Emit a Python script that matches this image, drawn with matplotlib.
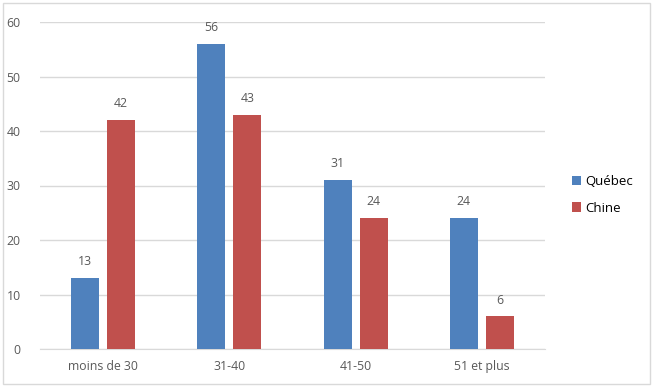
import matplotlib
matplotlib.use('Agg')
import matplotlib.pyplot as plt
from matplotlib.patches import Rectangle
import numpy as np

categories = ['moins de 30', '31-40', '41-50', '51 et plus']
quebec = [13, 56, 31, 24]
chine = [42, 43, 24, 6]
series_names = ['Québec', 'Chine']

plt.rcParams['font.family'] = ['Open Sans', 'DejaVu Sans']

W, H = 655, 387
fig = plt.figure(figsize=(W / 100, H / 100), dpi=100)
fig.patch.set_facecolor('white')
fig.patches.append(Rectangle((3 / W, 3 / H), 647 / W, 381 / H, transform=fig.transFigure,
                             fill=False, edgecolor='#D9D9D9', linewidth=1))

ax = fig.add_axes([40 / W, (H - 349) / H, 505 / W, 327 / H])

x = np.arange(len(categories))
bw = 0.222
off = 0.143
text_col = '#595959'

b1 = ax.bar(x - off, quebec, bw, color='#4F81BD', label=series_names[0], zorder=3)
b2 = ax.bar(x + off, chine, bw, color='#C0504D', label=series_names[1], zorder=3)

# étiquettes de valeurs au-dessus des barres
for bars in (b1, b2):
    for r in bars:
        ax.annotate(f'{int(r.get_height())}', (r.get_x() + r.get_width() / 2, r.get_height()),
                    xytext=(0, 7), textcoords='offset points', ha='center', va='bottom',
                    fontsize=8.8, color=text_col)

ax.set_xlim(-0.5, len(categories) - 0.5)
ax.set_ylim(0, 60)
ax.set_yticks(range(0, 61, 10))
ax.set_xticks(x)
ax.set_xticklabels(categories)
ax.yaxis.grid(True, color='#D9D9D9', linewidth=1, zorder=0)
ax.set_axisbelow(True)
for s in ['top', 'right', 'left']:
    ax.spines[s].set_visible(False)
ax.spines['bottom'].set_color('#D9D9D9')
ax.tick_params(axis='both', length=0, labelsize=8.8, colors=text_col, pad=8)
ax.tick_params(axis='y', pad=14)

fig.legend(loc='center left', bbox_to_anchor=(560 / W, (H - 195) / H), frameon=False,
           fontsize=9.5, handlelength=0.7, handleheight=0.7, handletextpad=0.3,
           labelspacing=1.0, labelcolor='black')

fig.savefig('out.png', dpi=100)
